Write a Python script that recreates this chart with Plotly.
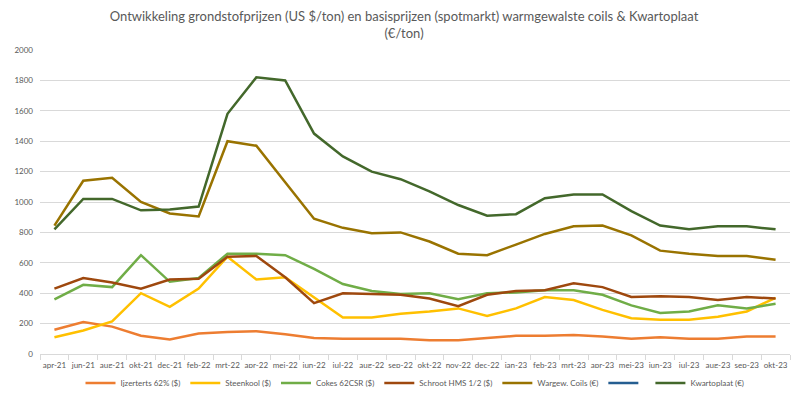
import plotly.graph_objects as go

categories = ["apr-21", "jun-21", "aug-21", "okt-21", "dec-21", "feb-22", "mrt-22", "apr-22", "mei-22",
              "jun-22", "jul-22", "aug-22", "sep-22", "okt-22", "nov-22", "dec-22", "jan-23", "feb-23",
              "mrt-23", "apr-23", "mei-23", "jun-23", "jul-23", "aug-23", "sep-23", "okt-23"]

ijzererts = [160, 210, 180, 120, 95, 135, 145, 150, 130, 105, 100, 100, 100, 90, 90, 105,
             120, 120, 125, 115, 100, 110, 100, 100, 115, 115]
steenkool = [110, 155, 215, 400, 310, 430, 640, 490, 505, 370, 240, 240, 265, 280, 300, 250,
             300, 375, 355, 290, 235, 225, 225, 245, 280, 370]
cokes = [360, 455, 440, 650, 475, 500, 660, 660, 650, 560, 460, 415, 395, 400, 360, 400,
         405, 420, 420, 390, 320, 270, 280, 320, 300, 330]
schroot = [430, 500, 470, 430, 490, 495, 640, 645, 505, 335, 400, 395, 390, 365, 315, 390,
           415, 420, 465, 440, 375, 380, 375, 355, 375, 365]
coils = [845, 1140, 1160, 1000, 925, 905, 1400, 1370, 1130, 890, 830, 795, 800, 740, 660, 650,
         720, 790, 840, 845, 780, 680, 660, 645, 645, 620]
blanco = [None] * len(categories)
kwartoplaat = [820, 1020, 1020, 945, 950, 970, 1580, 1820, 1800, 1450, 1300, 1200, 1150, 1070, 980, 910,
               920, 1025, 1050, 1050, 940, 845, 820, 840, 840, 820]

series = [
    ("Ijzerterts 62% ($)", ijzererts, "#ED7D31"),
    ("Steenkool ($)", steenkool, "#FFC000"),
    ("Cokes 62CSR ($)", cokes, "#70AD47"),
    ("Schroot HMS 1/2 ($)", schroot, "#9E480E"),
    ("Wargew. Coils (€)", coils, "#997300"),
    (" ", blanco, "#255E91"),
    ("Kwartoplaat (€)", kwartoplaat, "#43682B"),
]

fig = go.Figure()
for name, vals, col in series:
    fig.add_trace(go.Scatter(x=categories, y=vals, name=name, mode="lines",
                             line=dict(color=col, width=2.5)))

fig.update_layout(
    width=792, height=392,
    paper_bgcolor="white", plot_bgcolor="white",
    margin=dict(l=32, r=10, t=42, b=46, autoexpand=False),
    font=dict(family="Lato, Open Sans, sans-serif", color="#595959", size=8),
    title=dict(text="Ontwikkeling grondstofprijzen (US $/ton) en basisprijzen (spotmarkt) warmgewalste coils & Kwartoplaat<br>(€/ton)",
               x=0.5, xanchor="center", xref="container", y=0.967, yref="container", yanchor="top",
               font=dict(size=13, color="#595959", family="Lato, Open Sans, sans-serif")),
    showlegend=True,
    legend=dict(orientation="h", x=0.5, xanchor="center", y=-0.095, yanchor="middle",
                font=dict(size=8, color="#595959"), itemwidth=30, tracegroupgap=0),
)
fig.update_xaxes(type="category", range=[-0.5, len(categories) - 0.5],
                 showgrid=False, showline=True, linecolor="#d9d9d9", linewidth=1,
                 ticks="outside", ticklen=5, tickcolor="#d9d9d9", tickson="boundaries",
                 ticklabelstandoff=3,
                 tickfont=dict(size=8, color="#595959"), tickangle=0)
fig.update_yaxes(range=[0, 2000], dtick=200, showgrid=True, gridcolor="#d9d9d9", gridwidth=1,
                 zeroline=False, showline=False, ticklabelstandoff=6,
                 tickfont=dict(size=8, color="#595959"))

fig.write_html("out.html")
